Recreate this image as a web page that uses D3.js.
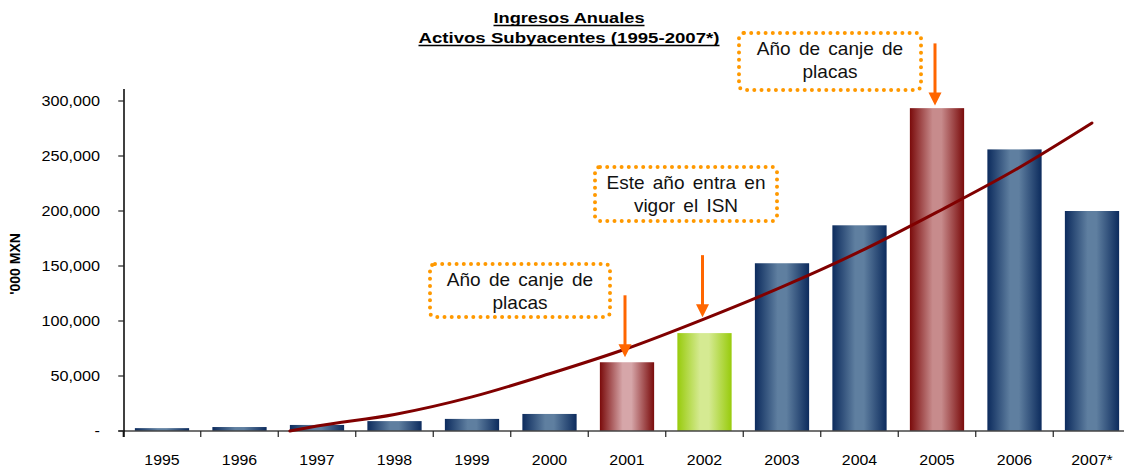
<!DOCTYPE html>
<html>
<head>
<meta charset="utf-8">
<script src="https://cdn.jsdelivr.net/npm/d3@7"></script>
<style>
body { margin: 0; background: #fff; }
text { font-family: "Liberation Sans", Arial, sans-serif; }
</style>
</head>
<body>
<svg id="chart"></svg>
<script>
// chart data
var years = ["1995", "1996", "1997", "1998", "1999", "2000", "2001", "2002", "2003", "2004", "2005", "2006", "2007*"];
var ingresos = [2600, 3600, 5500, 9000, 11000, 15500, 62500, 89000, 152500, 187000, 293500, 256000, 200000];
// trend line (position in categories, value)
var trendPos = [1.65, 2, 3, 4, 5, 6, 7, 8, 9, 10, 11, 12];
var trendValues = [0, 4500, 15000, 31000, 52000, 75000, 102000, 131000, 163000, 199000, 237000, 280000];
var yTicks = [0, 50000, 100000, 150000, 200000, 250000, 300000];
var titleLines = ["Ingresos Anuales", "Activos Subyacentes (1995-2007*)"];
var yLabel = "'000 MXN";
var noteLines = [["Año de canje de", "placas"], ["Este año entra en", "vigor el ISN"], ["Año de canje de", "placas"]];
var noteYears = ["2001", "2002", "2005"];
var noteTips = [67000, 103500, 296000];

// styles
var palettes = {
    blue: ["#0c2b5d", "#5f7fa0"],
    red1: ["#7a0b0b", "#d6a6a9"],
    red2: ["#7a0b0b", "#c78b8c"],
    green: ["#98cb0c", "#d5ea92"]
};
var barPalette = {"2001": "red1", "2002": "green", "2005": "red2"};
// note box layout (pixels)
var noteBoxes = [
    {x: 430, y: 264, w: 180, h: 53},
    {x: 595, y: 167, w: 182, h: 54},
    {x: 739, y: 33, w: 182, h: 57}
];

var width = 1124, height = 469;
var x0 = 123.25, x1 = 1130.75, yZero = 431, yTop = 90;

var svg = d3.select("#chart")
    .attr("width", width)
    .attr("height", height);

var defs = svg.append("defs");
Object.keys(palettes).forEach(function (k) {
    var g = defs.append("linearGradient")
        .attr("id", "grad-" + k)
        .attr("x1", 0).attr("x2", 1).attr("y1", 0).attr("y2", 0);
    var c = palettes[k];
    g.append("stop").attr("offset", "0%").attr("stop-color", c[0]);
    g.append("stop").attr("offset", "42%").attr("stop-color", c[1]);
    g.append("stop").attr("offset", "58%").attr("stop-color", c[1]);
    g.append("stop").attr("offset", "100%").attr("stop-color", c[0]);
});

var x = d3.scaleBand()
    .domain(years)
    .range([x0, x1])
    .paddingInner(0.3)
    .paddingOuter(0.15);

var y = d3.scaleLinear()
    .domain([0, 310000])
    .range([yZero, yTop]);

var step = x.step();
var xCenter = d3.scaleLinear()
    .domain([0, years.length - 1])
    .range([x(years[0]) + x.bandwidth() / 2, x(years[years.length - 1]) + x.bandwidth() / 2]);

// title
titleLines.forEach(function (t, i) {
    var len = i === 0 ? 151 : 301;
    var base = 23 + i * 20;
    svg.append("text")
        .attr("x", 569)
        .attr("y", base)
        .attr("text-anchor", "middle")
        .attr("font-size", "15px")
        .attr("font-weight", "bold")
        .attr("textLength", len)
        .attr("lengthAdjust", "spacingAndGlyphs")
        .text(t);
    svg.append("line")
        .attr("x1", 569 - len / 2).attr("x2", 569 + len / 2)
        .attr("y1", base + 2.5).attr("y2", base + 2.5)
        .attr("stroke", "#000").attr("stroke-width", 1.3);
});

// bars
svg.selectAll("rect.bar")
    .data(years)
    .enter()
    .append("rect")
    .attr("class", "bar")
    .attr("x", function (d) { return x(d); })
    .attr("width", x.bandwidth())
    .attr("y", function (d, i) { return y(ingresos[i]); })
    .attr("height", function (d, i) { return y(0) - y(ingresos[i]); })
    .attr("fill", function (d) { return "url(#grad-" + (barPalette[d] || "blue") + ")"; });

// x axis
svg.append("line")
    .attr("x1", x0 - 5).attr("x2", x1)
    .attr("y1", yZero).attr("y2", yZero)
    .attr("stroke", "#444").attr("stroke-width", 1.5);
years.forEach(function (d, i) {
    var tx = x(d) - step * 0.15;
    svg.append("line")
        .attr("x1", tx).attr("x2", tx)
        .attr("y1", yZero).attr("y2", yZero + 6)
        .attr("stroke", "#222").attr("stroke-width", 1.2);
    var cx = x(d) + x.bandwidth() / 2;
    svg.append("text")
        .attr("transform", "translate(" + cx + "," + 465 + ") scale(1.06,1)")
        .attr("text-anchor", "middle")
        .attr("font-size", "15px")
        .attr("fill", "#000")
        .text(d);
});

// y axis
svg.append("line")
    .attr("x1", x0 + 0.75).attr("x2", x0 + 0.75)
    .attr("y1", yTop - 1).attr("y2", yZero + 6)
    .attr("stroke", "#000").attr("stroke-width", 1.5);
yTicks.forEach(function (v) {
    svg.append("line")
        .attr("x1", x0 - 5).attr("x2", x0 + 0.75)
        .attr("y1", y(v)).attr("y2", y(v))
        .attr("stroke", "#222").attr("stroke-width", 1.2);
    svg.append("text")
        .attr("transform", "translate(100," + (y(v) + 5) + ") scale(1.08,1)")
        .attr("text-anchor", "end")
        .attr("font-size", "15px")
        .attr("fill", "#000")
        .text(v === 0 ? "-" : d3.format(",")(v));
});

svg.append("text")
    .attr("transform", "translate(20,264) rotate(-90)")
    .attr("text-anchor", "middle")
    .attr("font-size", "14px")
    .attr("font-weight", "bold")
    .text(yLabel);

// trend line
var trend = d3.line()
    .x(function (d, i) { return xCenter(trendPos[i]); })
    .y(function (d) { return y(d); })
    .curve(d3.curveMonotoneX);

svg.append("path")
    .datum(trendValues)
    .attr("d", trend)
    .attr("fill", "none")
    .attr("stroke", "#800000")
    .attr("stroke-width", 3)
    .attr("stroke-linecap", "round");

// notes
noteBoxes.forEach(function (b, i) {
    svg.append("rect")
        .attr("x", b.x).attr("y", b.y)
        .attr("width", b.w).attr("height", b.h)
        .attr("rx", 5)
        .attr("fill", "#fff")
        .attr("stroke", "#ff9900")
        .attr("stroke-width", 4)
        .attr("stroke-linecap", "round")
        .attr("stroke-dasharray", "0 7.2");
    noteLines[i].forEach(function (t, j) {
        svg.append("text")
            .attr("x", b.x + b.w / 2)
            .attr("y", b.y + 22 + j * 23)
            .attr("text-anchor", "middle")
            .attr("font-size", "19px")
            .attr("word-spacing", "3px")
            .attr("fill", "#111")
            .text(t);
    });
});

// arrows
noteYears.forEach(function (d, i) {
    var ax = x(d) + x.bandwidth() / 2 - 2;
    var tip = y(noteTips[i]);
    svg.append("line")
        .attr("x1", ax).attr("x2", ax)
        .attr("y1", tip - 62).attr("y2", tip - 10)
        .attr("stroke", "#ff6600").attr("stroke-width", 3);
    svg.append("path")
        .attr("d", "M" + (ax - 6.5) + "," + (tip - 13) + "L" + (ax + 6.5) + "," + (tip - 13) + "L" + ax + "," + tip + "Z")
        .attr("fill", "#ff6600");
});
</script>
</body>
</html>
